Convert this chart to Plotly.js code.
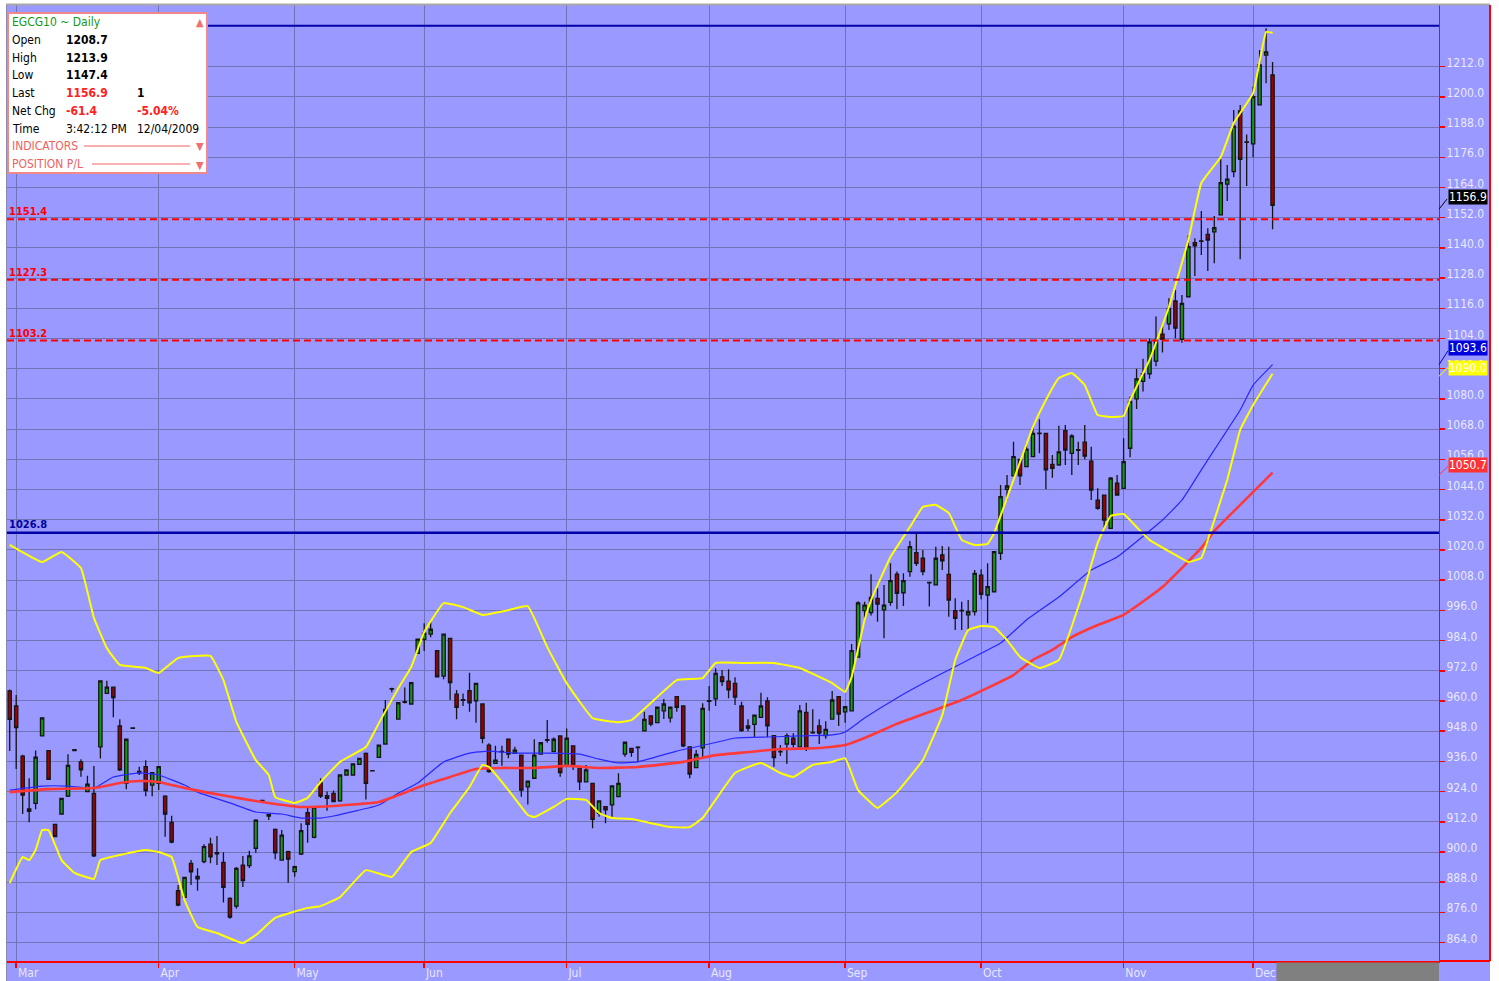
<!DOCTYPE html>
<html><head><meta charset="utf-8">
<script src="https://cdn.plot.ly/plotly-3.0.1.min.js"></script>
<style>html,body{margin:0;padding:0;background:#fff;}#chart{width:1499px;height:981px;}</style>
</head><body><div id="chart"></div>
<script>
// ---- data (trading-day index 0 = 27 Feb 2009 ... 195 = 4 Dec 2009) ----
const openP = [964.0,958.0,938.1,917.1,919.3,946.1,940.3,911.0,915.1,922.2,
940.7,935.8,924.0,923.3,941.8,963.0,965.5,950.1,927.3,949.3,
931.4,933.9,926.6,927.3,922.2,911.8,884.6,882.0,895.5,890.3,
896.2,903.1,899.7,895.9,881.6,878.5,894.8,894.6,901.5,920.5,
914.8,909.0,896.8,900.1,892.2,899.2,915.6,905.8,927.5,922.4,
923.3,920.3,930.6,930.6,934.8,939.2,932.3,937.6,942.9,964.9,
952.8,959.5,958.8,978.9,984.5,986.6,980.0,969.9,984.9,962.7,
960.5,964.1,960.1,958.8,942.5,935.2,940.0,944.8,939.2,938.5,
925.9,929.3,938.9,944.6,939.9,946.1,934.2,942.2,933.3,927.9,
927.3,915.4,918.0,918.7,922.0,938.9,941.2,941.5,948.1,954.1,
951.4,956.1,953.3,961.7,958.0,941.8,933.5,941.4,960.1,960.8,
969.6,967.9,967.0,958.0,950.1,950.7,953.5,960.0,946.2,940.0,
942.9,945.2,941.8,955.5,947.5,950.1,946.2,952.8,961.7,955.7,
956.1,977.4,995.9,995.1,1000.8,996.2,999.2,1010.4,1003.0,1011.4,
1018.9,1016.7,1007.1,1006.1,1018.0,1010.3,995.9,996.0,994.2,995.5,
1010.0,1002.1,1003.4,1018.7,1044.1,1049.4,1056.0,1053.1,1057.1,1066.4,
1066.3,1054.0,1053.8,1067.4,1058.4,1059.8,1062.8,1055.3,1039.8,1041.8,
1028.6,1046.5,1044.5,1060.4,1080.0,1087.0,1090.0,1095.0,1105.7,1109.8,
1118.9,1103.7,1120.6,1142.1,1142.8,1145.4,1146.4,1153.1,1165.3,1170.3,
1194.4,1182.1,1181.3,1196.8,1216.6,1208.7];
const highP = [964.6,962.4,938.6,929.3,940.3,953.4,940.5,911.2,921.5,938.8,
940.9,936.9,930.3,934.2,968.2,968.0,965.8,952.7,945.0,949.5,
933.9,936.5,931.7,934.1,922.5,914.4,886.9,890.2,896.8,893.5,
903.1,905.7,906.4,899.9,882.0,894.0,898.4,900.5,913.0,920.7,
915.0,909.3,908.7,900.5,894.5,911.4,918.0,918.3,929.3,924.0,
924.4,930.8,932.8,935.2,937.4,939.5,932.4,942.7,960.4,965.3,
959.5,965.4,967.5,984.8,990.9,991.5,980.2,986.8,985.1,964.4,
963.0,971.2,967.2,959.0,943.2,942.2,942.2,945.0,941.8,938.7,
928.4,944.8,943.6,952.4,945.5,946.3,949.1,942.4,933.5,934.6,
927.5,920.5,918.2,926.5,931.3,943.8,941.4,942.0,955.7,954.3,
957.7,960.8,957.7,961.9,958.2,942.0,940.5,959.1,966.0,973.0,
972.3,972.6,969.4,959.7,952.7,954.6,963.3,961.5,946.4,942.5,
947.2,947.2,958.4,959.3,956.7,952.7,951.9,964.0,961.9,957.9,
982.6,999.6,999.4,1010.3,1004.8,1006.1,1014.7,1011.4,1010.7,1023.6,
1026.9,1020.0,1007.4,1021.3,1021.6,1021.3,1000.8,999.4,1000.1,1012.0,
1012.3,1014.7,1019.5,1045.8,1049.8,1063.0,1056.2,1062.4,1069.0,1071.9,
1066.5,1057.7,1069.3,1069.6,1066.0,1063.0,1069.6,1061.0,1044.5,1042.0,
1049.0,1049.8,1064.4,1081.0,1092.0,1096.0,1104.0,1112.7,1109.4,1120.0,
1123.3,1121.3,1145.1,1143.8,1154.7,1147.8,1152.7,1175.2,1172.9,1194.8,
1196.8,1185.1,1204.1,1218.6,1227.3,1213.9];
const lowP = [940.1,933.0,915.1,911.8,917.0,945.9,928.7,905.9,914.9,921.9,
940.2,929.9,923.8,898.0,937.1,962.8,953.5,932.2,924.9,948.9,
930.6,922.2,922.2,924.6,906.1,903.5,878.5,881.8,886.9,884.6,
895.5,895.5,894.8,879.9,873.5,877.6,886.1,893.6,899.7,920.0,
912.7,897.1,896.5,887.8,890.2,898.8,903.7,905.5,921.5,916.4,
919.8,920.0,930.4,930.4,934.6,920.9,932.0,937.4,942.7,963.5,
952.6,959.0,958.6,978.7,979.9,985.3,969.4,968.6,960.4,952.7,
958.0,955.7,951.4,943.2,931.5,935.0,934.3,937.2,939.0,922.0,
918.9,929.1,938.7,943.4,939.7,929.9,934.0,932.6,924.6,927.7,
909.4,914.0,911.4,914.0,921.8,937.8,937.8,935.9,947.9,950.0,
951.2,952.8,951.5,955.7,941.6,929.3,933.3,937.2,956.1,958.0,
966.0,961.1,958.4,947.8,948.0,945.6,953.3,945.6,933.9,938.1,
935.0,941.5,941.6,940.1,947.0,942.9,945.0,952.6,950.1,951.4,
955.9,977.2,992.8,994.0,991.5,984.9,997.8,996.4,997.7,1009.4,
1013.6,1010.0,997.5,1005.9,1012.0,993.5,988.2,988.2,988.2,994.0,
1000.4,990.9,1003.2,1016.0,1039.8,1049.2,1045.8,1052.9,1056.9,1058.4,
1044.1,1048.7,1053.4,1053.8,1049.8,1053.8,1056.0,1039.8,1036.0,1027.9,
1028.4,1041.6,1044.3,1056.8,1076.0,1083.0,1088.0,1093.0,1098.4,1107.4,
1104.1,1102.3,1120.4,1128.8,1137.2,1130.8,1133.9,1152.9,1158.6,1168.1,
1135.5,1164.6,1176.0,1196.6,1205.4,1147.4];
const closeP = [952.7,949.4,922.6,916.2,937.7,953.3,928.9,906.1,921.3,934.4,
940.3,932.6,927.0,898.5,968.0,965.5,961.3,932.6,944.8,949.1,
932.0,924.4,931.5,933.9,915.1,903.9,878.9,889.9,892.1,889.3,
902.1,898.1,899.3,886.0,874.1,893.5,888.6,898.5,912.7,920.3,
914.3,899.7,906.7,897.2,894.2,908.5,911.0,917.8,922.2,921.3,
920.0,930.6,932.6,935.0,937.2,927.3,932.2,942.5,956.7,964.7,
959.3,959.7,967.3,984.6,986.9,988.5,969.6,986.6,967.3,957.5,
960.3,959.3,967.0,945.2,931.9,936.5,939.8,938.9,940.5,924.6,
928.2,938.5,943.4,944.4,944.8,931.5,945.2,934.2,927.9,932.6,
913.0,920.3,916.7,926.3,927.3,943.6,939.6,941.7,952.7,950.8,
957.5,958.8,957.5,957.5,942.2,931.0,938.8,957.1,959.9,971.0,
967.7,964.4,961.5,948.2,949.2,954.4,958.0,950.1,937.5,939.8,
946.2,942.8,956.1,941.2,947.3,947.2,948.7,960.4,954.8,957.7,
980.0,999.0,998.1,1001.2,998.5,998.1,1007.8,1002.8,1007.8,1021.3,
1014.7,1011.4,1006.9,1016.7,1015.7,1000.1,992.8,995.8,995.5,1010.7,
1002.4,1005.4,1019.3,1041.2,1045.4,1057.1,1049.4,1060.0,1066.3,1066.2,
1051.8,1052.4,1059.0,1059.7,1065.3,1059.6,1057.3,1043.8,1036.5,1031.9,
1048.5,1041.8,1055.1,1079.0,1088.0,1090.0,1102.7,1103.4,1103.7,1116.0,
1108.1,1118.0,1140.5,1140.8,1142.6,1143.1,1148.0,1165.9,1167.3,1188.4,
1175.2,1181.9,1200.1,1212.7,1217.9,1156.9];

// moving averages and Bollinger bands, read at sample days
const blueIdx = [0,5,9,13,16,20,23,27,29,34,38,42,45,48,50,57,60,63,67,71,74,78,83,88,91,94,97,103,108,112,117,122,127,129,132,137,142,145,148,153,157,162,167,171,178,181,184,187,190,192,195];
const blueVal = [924.6,926.2,926.2,925.4,929.8,931.4,930.6,926.6,923.8,919.5,915.9,915.1,913.5,913.5,914.3,918.7,923.4,927.4,935.8,939.3,940.1,939.3,939.3,938.9,936.9,935.4,935.8,940.1,942.9,945.3,945.7,946.1,946.5,947.7,953.2,961.2,968.3,972.3,976.3,983.0,992.2,1001.3,1012.0,1017.2,1031.9,1039.8,1051.8,1063.7,1075.6,1085.5,1093.6];
const redIdx = [0,6,13,17,20,23,27,31,36,40,45,50,57,60,64,68,72,76,81,86,91,97,104,109,114,119,125,129,132,137,142,147,151,155,158,161,164,168,172,178,184,186,190,195];
const redVal = [923.8,925.0,925.4,927.4,928.2,927.8,925.4,923.4,921.1,919.5,917.9,918.3,919.9,922.6,926.6,929.8,933.0,933.4,933.4,934.2,933.4,933.8,935.8,938.5,939.7,940.9,941.3,942.5,945.3,950.9,955.6,960.4,965.2,970.3,976.3,980.3,985.4,990.2,994.2,1005.3,1020.8,1027.5,1037.9,1050.7];
const upIdx = [0,5,8,11,13,15,17,21,23,26,31,33,35,38,40,41,44,46,48,51,55,57,60,62,64,67,70,73,77,80,83,86,90,94,96,103,107,109,113,118,122,127,129,130,132,133,136,139,141,143,145,147,149,151,152,155,158,160,162,164,166,168,170,172,173,176,179,182,184,187,189,192,194,195];
const upVal = [1022.0,1015.2,1019.2,1012.8,993.0,981.0,974.3,973.1,971.1,977.1,977.9,968.3,951.7,936.5,930.6,921.8,919.5,921.5,927.8,935.8,941.7,951.2,965.1,973.5,987.4,998.9,997.3,994.2,996.1,997.7,981.4,967.1,953.2,951.6,952.4,968.3,969.1,975.1,975.1,975.1,973.1,967.1,963.6,969.5,992.2,1000.1,1017.2,1029.1,1037.1,1037.9,1034.7,1024.0,1022.0,1022.4,1026.7,1047.8,1068.9,1079.6,1088.3,1090.3,1085.5,1073.6,1072.8,1073.2,1079.6,1095.5,1116.5,1143.1,1165.8,1176.1,1189.6,1201.5,1225.8,1225.4];
const loIdx = [0,2,3,4,5,6,8,10,13,14,17,21,23,25,27,29,32,36,38,41,46,48,51,55,59,62,65,68,71,73,74,77,80,81,84,86,89,91,93,96,102,105,107,112,116,119,121,124,127,129,131,134,137,141,144,146,148,150,152,154,156,159,162,166,168,170,172,174,176,180,182,184,185,188,190,192,195];
const loVal = [887.7,898.0,896.8,900.8,908.7,908.7,896.8,891.7,889.3,896.8,898.8,900.8,900.0,898.0,880.9,870.2,867.8,863.8,867.0,873.8,877.8,878.5,882.1,892.8,890.1,900.0,903.6,915.5,925.8,934.6,933.8,924.6,914.7,913.9,917.9,921.1,920.7,915.5,913.5,913.1,909.9,909.9,913.5,931.4,935.4,931.4,929.8,934.6,935.8,937.3,924.6,917.5,923.8,936.5,954.4,976.3,988.2,989.8,989.4,984.2,977.5,973.1,976.3,1005.3,1022.8,1033.5,1034.3,1029.1,1024.0,1018.0,1015.2,1016.8,1024.0,1047.8,1067.7,1077.6,1090.0];

const monthTickIdx = [1,23,44,64,86,108,129,150,172,192];
const monthLabels = ['Mar','Apr','May','Jun','Jul','Aug','Sep','Oct','Nov','Dec'];
const yTickVals = [864,876,888,900,912,924,936,948,960,972,984,996,1008,1020,1032,1044,1056,1068,1080,1092,1104,1116,1128,1140,1152,1164,1176,1188,1200,1212];

const levelRed = [1151.4, 1127.3, 1103.2];
const levelBlue = 1026.8;
const levelTop = 1228.3;
const lastVals = {close:1156.9, blue:1093.6, lower:1090.0, red:1050.7};

// ---- layout helpers (pixel -> paper) ----
const W=1499,H=981,ML=7,MR=60,MT=5,MB=20;
const PW=W-ML-MR, PH=H-MT-MB;
const px = x => (x-ML)/PW;
const py = y => 1-(y-MT)/PH;
const FONT = 'DejaVu Sans Condensed, Liberation Sans Narrow, Arial Narrow, sans-serif';
const idx = openP.map((_,i)=>i);

const traces = [
  {type:'candlestick', x:idx, open:openP, high:highP, low:lowP, close:closeP,
   increasing:{fillcolor:'#129A12', line:{color:'#151515', width:1.3}},
   decreasing:{fillcolor:'#9C0000', line:{color:'#151515', width:1.3}},
   whiskerwidth:0, hoverinfo:'skip', showlegend:false},
  {type:'scatter', mode:'lines', x:blueIdx, y:blueVal, line:{color:'#2828FF', width:1.2, shape:'spline', smoothing:0.4}, hoverinfo:'skip', showlegend:false},
  {type:'scatter', mode:'lines', x:redIdx, y:redVal, line:{color:'#FF3838', width:2.6, shape:'spline', smoothing:0.4}, hoverinfo:'skip', showlegend:false},
  {type:'scatter', mode:'lines', x:upIdx, y:upVal, line:{color:'#FFFF00', width:2, shape:'spline', smoothing:0.3}, hoverinfo:'skip', showlegend:false},
  {type:'scatter', mode:'lines', x:loIdx, y:loVal, line:{color:'#FFFF00', width:2, shape:'spline', smoothing:0.3}, hoverinfo:'skip', showlegend:false}
];

const shapes = [
  {type:'rect', xref:'paper', yref:'paper', x0:px(6), x1:px(1490), y0:py(981), y1:py(5), fillcolor:'#9999FF', line:{width:0}, layer:'below'},
  {type:'line', xref:'paper', yref:'paper', x0:px(6.5), x1:px(6.5), y0:py(5), y1:py(981), line:{color:'#8A8AB0', width:1}},
  {type:'line', xref:'paper', yref:'paper', x0:px(6), x1:px(1490), y0:py(4.5), y1:py(4.5), line:{color:'#A8A8A8', width:2}},
  {type:'line', xref:'paper', yref:'paper', x0:px(1490), x1:px(1490), y0:py(5), y1:py(961), line:{color:'#FF0000', width:2}},
  {type:'line', xref:'paper', yref:'paper', x0:px(1439), x1:px(1490), y0:py(961), y1:py(961), line:{color:'#FF0000', width:2}},
  {type:'rect', xref:'x', yref:'paper', x0:195.6, x1:220.7, y0:py(981), y1:py(962.5), fillcolor:'#808080', line:{width:0}},
  {type:'line', xref:'paper', yref:'y', x0:0, x1:1, y0:levelBlue, y1:levelBlue, line:{color:'#0000A8', width:2.5}},
  {type:'line', xref:'paper', yref:'y', x0:0, x1:1, y0:levelTop, y1:levelTop, line:{color:'#0000A8', width:2}},
];
levelRed.forEach(v => shapes.push({type:'line', xref:'paper', yref:'y', x0:0, x1:1, y0:v, y1:v, line:{color:'#FF0000', width:2, dash:'7px,4px'}}));
// connectors to the right-hand value boxes
shapes.push({type:'line', xref:'paper', yref:'y', x0:1, x1:px(1447), y0:lastVals.close-1.5, y1:lastVals.close+2.5, line:{color:'#000', width:1}});
shapes.push({type:'line', xref:'paper', yref:'y', x0:1, x1:px(1448), y0:lastVals.blue, y1:lastVals.blue+5.5, line:{color:'#0000DD', width:1}});
shapes.push({type:'line', xref:'paper', yref:'y', x0:1, x1:px(1448), y0:lastVals.lower-1, y1:lastVals.lower+2.5, line:{color:'#FFFF00', width:1}});
shapes.push({type:'line', xref:'paper', yref:'y', x0:1, x1:px(1448), y0:lastVals.red-1, y1:lastVals.red+2.5, line:{color:'#FF3333', width:1}});
// info box
shapes.push({type:'rect', xref:'paper', yref:'paper', x0:px(8), x1:px(207), y0:py(173), y1:py(13), fillcolor:'#FFFFFF', line:{color:'#F08A8A', width:2}});
shapes.push({type:'line', xref:'paper', yref:'paper', x0:px(84), x1:px(190), y0:py(146), y1:py(146), line:{color:'#F06060', width:1}});
shapes.push({type:'line', xref:'paper', yref:'paper', x0:px(92), x1:px(190), y0:py(164), y1:py(164), line:{color:'#F06060', width:1}});

const ann = [];
function txt(x, y, text, color, size, bold, extra){
  ann.push(Object.assign({xref:'paper', yref:'paper', x:px(x), y:py(y), xanchor:'left', yanchor:'middle', showarrow:false,
    text: bold ? '<b>'+text+'</b>' : text, font:{family:FONT, size:size, color:color}}, extra||{}));
}
txt(10, 22, 'EGCG10 ~ Daily', '#119911', 12);
txt(10, 40, 'Open', '#000', 12); txt(64, 40, '1208.7', '#000', 12, true);
txt(10, 58, 'High', '#000', 12); txt(64, 58, '1213.9', '#000', 12, true);
txt(10, 75, 'Low', '#000', 12); txt(64, 75, '1147.4', '#000', 12, true);
txt(10, 93, 'Last', '#000', 12); txt(64, 93, '1156.9', '#FF2020', 12, true); txt(135, 93, '1', '#000', 12, true);
txt(10, 111, 'Net Chg', '#000', 12); txt(64, 111, '-61.4', '#FF2020', 12, true); txt(135, 111, '-5.04%', '#FF2020', 12, true);
txt(10, 129, 'Time', '#000', 12); txt(64, 129, '3:42:12 PM', '#000', 12); txt(135, 129, '12/04/2009', '#000', 12);
txt(10, 146, 'INDICATORS', '#F06060', 12);
txt(10, 164, 'POSITION P/L', '#F06060', 12);
txt(194, 22, '▲', '#F07070', 11);
txt(194, 147, '▼', '#F07070', 11);
txt(194, 165, '▼', '#F07070', 11);

// left level labels
levelRed.forEach(v => ann.push({xref:'paper', yref:'y', x:0, y:v, xanchor:'left', yanchor:'bottom', showarrow:false, yshift:-1,
  text:'<b>'+v.toFixed(1)+'</b>', font:{family:FONT, size:11, color:'#FF0000'}}));
ann.push({xref:'paper', yref:'y', x:0, y:levelBlue, xanchor:'left', yanchor:'bottom', showarrow:false, yshift:0,
  text:'<b>'+levelBlue.toFixed(1)+'</b>', font:{family:FONT, size:11, color:'#0000A0'}});

// right value boxes
function box(v, bg, fg, ys){
  ann.push({xref:'paper', yref:'y', x:px(1448), y:v, xanchor:'left', yanchor:'bottom', yshift:ys||0, showarrow:false,
    text:v.toFixed(1), bgcolor:bg, borderpad:0, font:{family:FONT, size:12, color:fg}});
}
box(lastVals.close, '#000000', '#FFFFFF', 0);
box(lastVals.blue, '#0000DD', '#FFFFFF', 9);
box(lastVals.lower, '#FFFF00', '#FFFFFF', -2);
box(lastVals.red, '#FF3333', '#FFFFFF', 0);

const layout = {
  width:W, height:H, margin:{l:ML, r:MR, t:MT, b:MB, pad:0},
  paper_bgcolor:'#FFFFFF', plot_bgcolor:'#9999FF',
  showlegend:false, hovermode:false, boxgap:0.28,
  xaxis:{range:[-0.42, 220.7], tickmode:'array', tickvals:monthTickIdx, ticktext:monthLabels,
    ticklabelposition:'outside right', showgrid:true, gridcolor:'#7272B6', gridwidth:1,
    showline:true, linecolor:'#FF0000', linewidth:2, ticks:'outside', ticklen:5, tickcolor:'#FF0000', tickwidth:1.5,
    tickfont:{family:FONT, size:12, color:'#E8E8FF'}, zeroline:false, rangeslider:{visible:false}, fixedrange:true},
  yaxis:{side:'right', range:[856.7, 1236.5], tickmode:'array', tickvals:yTickVals, ticktext:yTickVals.map(v=>v.toFixed(1)),
    ticklabelposition:'outside top', ticklabelshift:5, ticklabelstandoff:4, showgrid:true, gridcolor:'#7272B6', gridwidth:1,
    showline:true, linecolor:'#FF0000', linewidth:1, ticks:'outside', ticklen:5, tickcolor:'#FF0000', tickwidth:1.5,
    tickfont:{family:FONT, size:12, color:'#E8E8FF'}, zeroline:false, fixedrange:true},
  shapes:shapes, annotations:ann
};
Plotly.newPlot('chart', traces, layout, {displayModeBar:false, staticPlot:true});
</script></body></html>
